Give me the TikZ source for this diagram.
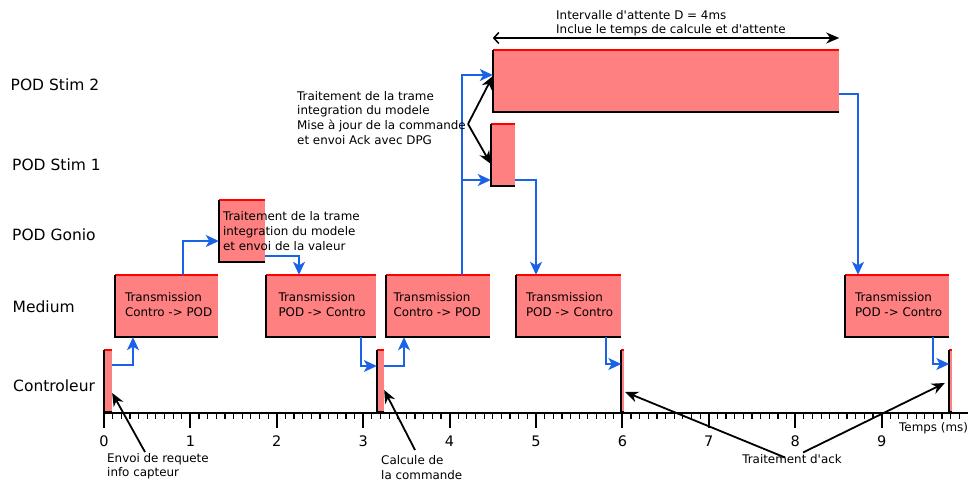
\documentclass[tikz,border=0pt]{standalone}
\usepackage{fontspec}
\setmainfont{DejaVu Sans}[Ligatures=TeXOff]
\usetikzlibrary{arrows.meta,calc}
\definecolor{boxfill}{HTML}{FF8080}
\definecolor{flowblue}{HTML}{1A62E6}
\begin{document}
\begin{tikzpicture}[x=1pt,y=-1pt,
  lane/.style={font=\fontsize{15.5}{18}\selectfont, anchor=west, inner sep=0},
  num/.style={font=\fontsize{14.5}{17}\selectfont, inner sep=0},
  small/.style={font=\fontsize{11.9}{14.6}\selectfont, align=left, inner sep=0},
  blk/.style={fill=boxfill, draw=none, inner sep=0, minimum height=62pt},
  btxt/.style={small, anchor=west, yshift=1.5pt},
  flow/.style={draw=flowblue, line width=1.5pt, -{Stealth[length=13pt,width=12pt,inset=3.5pt]}},
  note/.style={draw=black, line width=1.8pt, -{Stealth[length=13pt,width=11pt]}},
]
\useasboundingbox (0,0) rectangle (968,481);

% lane titles
\node[lane] (lstim2) at (10.5,85) {POD Stim 2};
\node[lane] (lstim1) at (12,165) {POD Stim 1};
\node[lane] (lgonio) at (12,235) {POD Gonio};
\node[lane] (lmed)   at (12.5,307) {Medium};
\node[lane] (lctrl)  at (13,386) {Controleur};

% activity blocks
\node[blk, minimum width=8pt]   (c1) at (108,381) {};
\node[blk, minimum width=103pt] (m1) at (166.5,306) {};
\node[blk, minimum width=46pt]  (g)  at (242,231) {};
\node[blk, minimum width=110pt] (m2) at (321,306) {};
\node[blk, minimum width=7pt]   (c2) at (380.5,381) {};
\node[blk, minimum width=104pt] (m3) at (438,306) {};
\node[blk, minimum width=24pt]  (s1) at (503,155) {};
\node[blk, minimum width=346pt] (s2) at (666,81) {};
\node[blk, minimum width=105pt] (m4) at (568.5,306) {};
\node[blk, minimum width=2pt]   (c3) at (622.5,381) {};
\node[blk, minimum width=104pt] (m5) at (897,306) {};
\node[blk, minimum width=2pt]   (c4) at (950.5,381) {};

% block edges: red top, black left and bottom
\foreach \blkname in {c1,m1,g,m2,c2,m3,s1,s2,m4,m5,c3,c4} {
  \draw[red, line width=1.6pt] (\blkname.north west) -- (\blkname.north east);
  \draw[black, line width=1.8pt] (\blkname.north west) -- (\blkname.south west) -- (\blkname.south east);
}

% block texts
\node[btxt] (m1t) at ([xshift=10pt]m1.west) {Transmission\\Contro -> POD};
\node[btxt] (m2t) at ([xshift=12.5pt]m2.west) {Transmission\\POD -> Contro};
\node[btxt] (m3t) at ([xshift=7.5pt]m3.west) {Transmission\\Contro -> POD};
\node[btxt] (m4t) at ([xshift=10pt]m4.west) {Transmission\\POD -> Contro};
\node[btxt] (m5t) at ([xshift=10pt]m5.west) {Transmission\\POD -> Contro};
\node[small, anchor=west] (gtxt) at ([xshift=4pt]g.west) {Traitement de la trame\\integration du modele\\et envoi de la valeur};

% time axis
\draw[line width=1.5pt] (104,413) -- (968,413);
\foreach \i in {1,...,99} \draw[line width=1.2pt] (104+8.64*\i,413) -- ++(0,6);
\foreach \i in {0,...,9} {
  \draw[line width=2pt] (104+86.4*\i,413) -- ++(0,15);
  \node[num] (n\i) at (104+86.4*\i,441.5) {\i};
}
\node[small, anchor=west] (unit) at (899,428) {Temps (ms)};

% message flow
\draw[flow] (c1.east |- 0,365) -| (133,0 |- m1.south);
\draw[flow] (183,0 |- m1.north) |- (g.west |- 0,241);
\draw[flow] (g.east |- 0,256) -| (299,0 |- m2.north);
\draw[flow] (361,0 |- m2.south) |- (c2.west |- 0,366);
\draw[flow] (c2.east |- 0,366) -| (404,0 |- m3.south);
\draw[flow] (462,0 |- m3.north) |- (s2.west |- 0,75);
\coordinate (split) at (462,180);
\draw[flow] (split) -- (s1.west |- split);
\draw[flow] (s1.east |- 0,180) -| (536,0 |- m4.north);
\draw[flow] (606,0 |- m4.south) |- (c3.west |- 0,364);
\draw[flow] (s2.east |- 0,94) -| (858,0 |- m5.north);
\draw[flow] (933,0 |- m5.south) |- (c4.west |- 0,364);

% waiting interval
\draw[line width=1.5pt, {Straight Barb[length=5pt,width=11pt]}-{Stealth[length=13pt,width=11pt]}]
  (s2.north west |- 0,38) -- (s2.north east |- 0,38);
\node[small, anchor=north west] (wait) at (556,10) {Intervalle d'attente D = 4ms\\Inclue le temps de calcule et d'attente};

% annotations
\node[small, anchor=north west] (stxt) at (297,91) {Traitement de la trame\\integration du modele\\Mise à jour de la commande\\et envoi Ack avec DPG};
\coordinate (fork) at (468,124);
\draw[note] (fork) -- (s2.west |- 0,76);
\draw[note] (fork) -- (s1.west |- 0,164);

\node[small, anchor=north west] (env) at (107,453) {Envoi de requete\\info capteur};
\draw[note] ([xshift=38pt,yshift=1pt]env.north west) -- (c1.east |- 0,393);

\node[small, anchor=north west] (calc) at (381,455.5) {Calcule de\\la commande};
\draw[note] ([xshift=34pt,yshift=5.5pt]calc.north west) -- (c2.east |- 0,390);

\node[small] (ack) at (792,459.5) {Traitement d'ack};
\draw[note] ([xshift=-7pt,yshift=2pt]ack.center) -- ($(c3.east |- 0,392)+(1.5,0)$);
\draw[note] ([xshift=11pt,yshift=7pt]ack.center) -- ($(c4.west |- 0,383)+(-4.5,0)$);
\end{tikzpicture}
\end{document}
